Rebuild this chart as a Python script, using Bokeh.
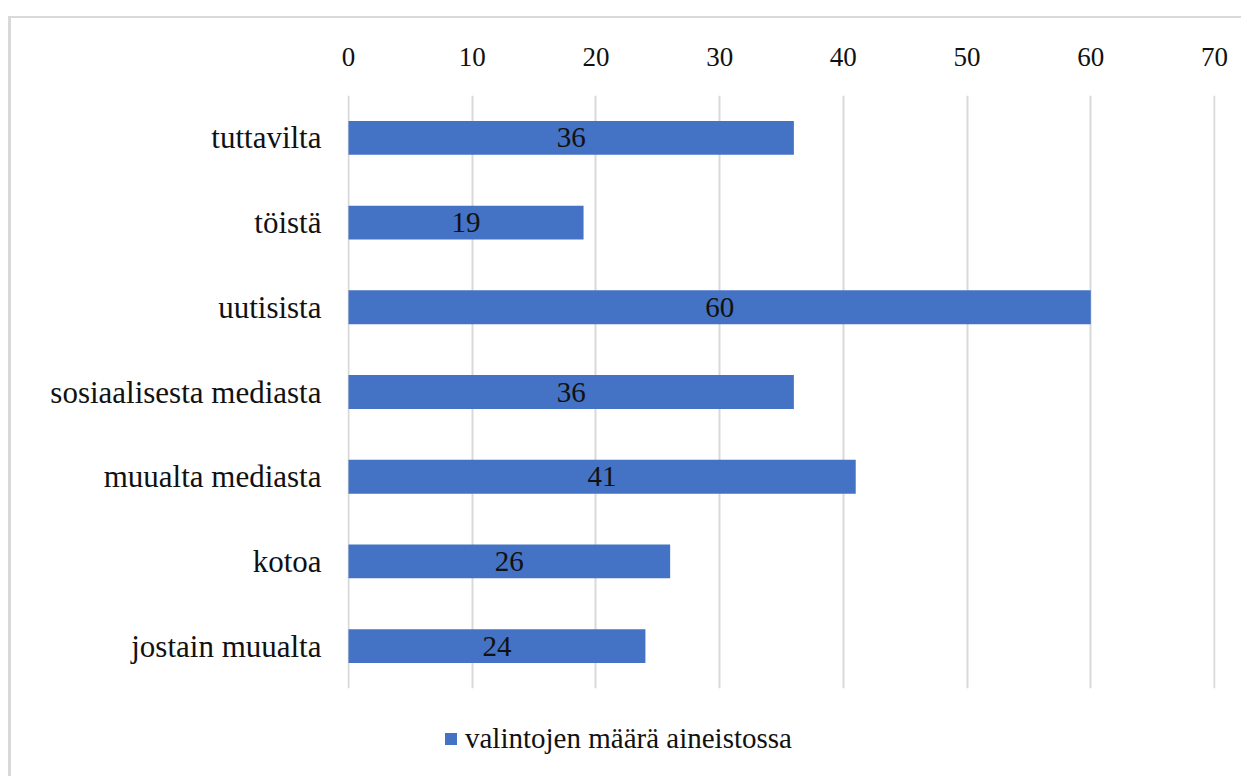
from bokeh.plotting import figure
from bokeh.layouts import column
from bokeh.models import (Range1d, FactorRange, FixedTicker, ColumnDataSource,
                          Legend, LegendItem, LabelSet)
from bokeh.embed import file_html
from bokeh.resources import INLINE

categories = ["tuttavilta", "töistä", "uutisista", "sosiaalisesta mediasta",
              "muualta mediasta", "kotoa", "jostain muualta"]
values = [36, 19, 60, 36, 41, 26, 24]
series_name = "valintojen määrä aineistossa"
x_ticks = [0, 10, 20, 30, 40, 50, 60, 70]

FONT = "Liberation Serif"
BAR = "#4472C4"
GRID = "#d9d9d9"
TXT = "#111111"

src = ColumnDataSource(dict(cat=categories, val=values,
                            mid=[v / 2 for v in values],
                            lbl=[str(v) for v in values]))

p = figure(width=1233, height=680, output_backend="svg", toolbar_location=None,
           x_range=Range1d(-0.08, 70.08), y_range=FactorRange(*reversed(categories)),
           x_axis_location="above",
           min_border_left=336, min_border_right=29, min_border_top=77,
           min_border_bottom=10)
p.margin = (16, 0, 0, 8)
p.styles = {"border-top": "2px solid #d9d9d9", "border-left": "3px solid #d9d9d9"}
p.y_range.range_padding = 0
p.outline_line_color = None
p.background_fill_color = "white"
p.border_fill_color = "white"

r = p.hbar(y="cat", right="val", left=0, height=0.4, source=src,
           fill_color=BAR, line_color=None)

labels = LabelSet(x="mid", y="cat", text="lbl", source=src,
                  text_align="center", text_baseline="middle",
                  text_font=FONT, text_font_size="29px", text_color=TXT)
p.add_layout(labels)

xa = p.xaxis[0]
xa.ticker = FixedTicker(ticks=x_ticks)
xa.axis_line_color = None
xa.major_tick_line_color = None
xa.minor_tick_line_color = None
xa.major_label_text_font = FONT
xa.major_label_text_font_size = "27px"
xa.major_label_text_color = TXT
xa.major_label_standoff = 24

ya = p.yaxis[0]
ya.axis_line_color = None
ya.major_tick_line_color = None
ya.minor_tick_line_color = None
ya.major_label_text_font = FONT
ya.major_label_text_font_size = "31px"
ya.major_label_text_color = TXT
ya.major_label_standoff = 20

p.xgrid.grid_line_color = GRID
p.xgrid.grid_line_width = 2
p.ygrid.grid_line_color = None

# legend strip below the chart (frames are aligned with the main plot)
p2 = figure(width=1233, height=80, output_backend="svg", toolbar_location=None,
            x_range=Range1d(0, 1), y_range=Range1d(0, 1),
            x_axis_type=None, y_axis_type=None,
            min_border_left=0, min_border_right=0, min_border_top=0,
            min_border_bottom=0)
p2.margin = (0, 0, 0, 8)
p2.styles = {"border-left": "3px solid #d9d9d9"}
p2.outline_line_color = None
p2.xgrid.visible = False
p2.ygrid.visible = False
# hidden proxy renderer that only supplies the legend swatch style
r2 = p2.hbar(y=0, right=0, left=0, height=0.4,
             fill_color=BAR, line_color=None, visible=False)

legend = Legend(items=[LegendItem(label=series_name, renderers=[r2])],
                location=(96, 21), orientation="horizontal",
                border_line_color=None, background_fill_alpha=0,
                inactive_fill_alpha=0,
                padding=0, margin=0, glyph_width=15, glyph_height=15,
                label_text_font=FONT, label_text_font_size="29px",
                label_text_color=TXT, label_standoff=7)
p2.add_layout(legend, "center")

layout = column(p, p2, spacing=0)
open("out.html", "w").write(file_html(layout, INLINE))
